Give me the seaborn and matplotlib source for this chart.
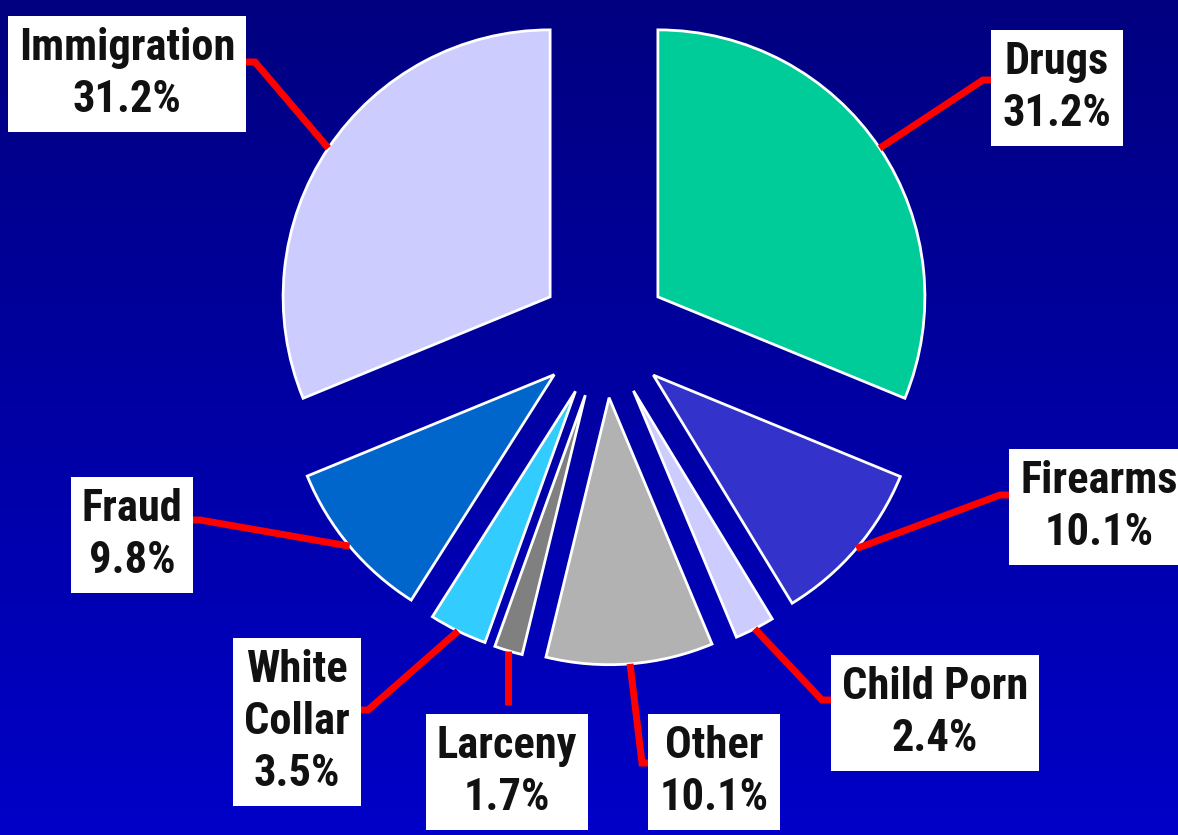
import numpy as np
import matplotlib
matplotlib.use("Agg")
import matplotlib.pyplot as plt
import seaborn as sns
from matplotlib import font_manager
from matplotlib.colors import LinearSegmentedColormap

# data
categories = ["Drugs", "Firearms", "Child Porn", "Other", "Larceny",
              "White Collar", "Fraud", "Immigration"]
shares = [31.2, 10.1, 2.4, 10.1, 1.7, 3.5, 9.8, 31.2]
label_names = ["Drugs", "Firearms", "Child Porn", "Other", "Larceny",
               "White\nCollar", "Fraud", "Immigration"]
colors = ["#00CC99", "#3333CC", "#CCCCFF", "#B2B2B2", "#808080",
          "#33CCFF", "#0066CC", "#CCCCFF"]

# layout (pixels from top-left): label centre, elbow of leader, end of leader
label_pos = [(1057, 88), (1099, 507), (935, 713), (714, 772), (507, 772),
             (297, 722), (132, 535), (127, 74)]
elbows = [(983, 80), (1000, 495), (822, 700), (642, 763), (None, 705),
          (368, 710), (200, 520), (255, 62)]
ends = [(997, 80), (1011, 495), (836, 700), (656, 763), (None, 705),
        (357, 710), (191, 520), (241, 62)]

W, H = 1178, 835
CX, CY, SCALE = 604, 333, 267.0


def px(x, y):
    return (x - CX) / SCALE, (CY - y) / SCALE


sns.set_style("white")
avail = {f.name for f in font_manager.fontManager.ttflist}
font = "DejaVu Sans"
for cand in ["Roboto Condensed", "Liberation Sans Narrow", "Open Sans Condensed"]:
    if cand in avail:
        font = cand
        break
plt.rcParams["font.family"] = [font, "DejaVu Sans"]

fig = plt.figure(figsize=(W / 100, H / 100), dpi=100)
ax = fig.add_axes([0, 0, 1, 1])
x0, y1 = px(0, 0)
x1, y0 = px(W, H)

# background gradient
cmap = LinearSegmentedColormap.from_list("bg", ["#000080", "#0000C8"])
grad = np.linspace(0, 1, 256).reshape(-1, 1)
ax.imshow(grad, extent=[x0, x1, y0, y1], aspect="auto", cmap=cmap,
          origin="upper", zorder=0)

wedges, _ = ax.pie(shares, colors=colors, startangle=90, counterclock=False,
                   radius=1, explode=[0.243] * len(shares),
                   wedgeprops=dict(edgecolor="white", linewidth=2),
                   center=(0, 0))
for w in wedges:
    w.set_zorder(2)

for w, name, val, lp, el, en in zip(wedges, label_names, shares,
                                     label_pos, elbows, ends):
    mid = np.deg2rad((w.theta1 + w.theta2) / 2)
    sx = w.center[0] + w.r * np.cos(mid)
    sy = w.center[1] + w.r * np.sin(mid)
    ex, ey = px(el[0] if el[0] is not None else 0, el[1])
    if el[0] is None:
        ex = sx
    nx, ny = px(en[0] if en[0] is not None else 0, en[1])
    if en[0] is None:
        nx = sx
    ax.plot([sx, ex, nx], [sy, ey, ny], color="#FF0000", lw=5,
            solid_capstyle="butt", solid_joinstyle="miter", zorder=3)
    tx, ty = px(*lp)
    ax.text(tx, ty, f"{name}\n{val:.1f}%", ha="center", va="center",
            fontsize=32, fontweight="bold", fontstretch="condensed",
            color="#111111", linespacing=1.3, zorder=4,
            bbox=dict(boxstyle="square,pad=0.25", fc="white", ec="none"))

ax.set_xlim(x0, x1)
ax.set_ylim(y0, y1)
ax.set_aspect("equal")
ax.axis("off")

fig.savefig("out.png", dpi=100)
